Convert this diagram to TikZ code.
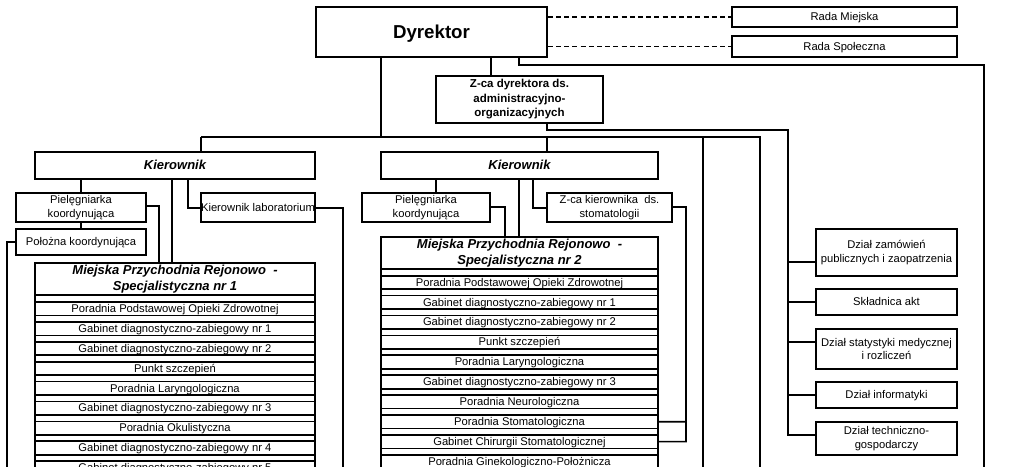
\documentclass[tikz,border=0pt]{standalone}
\usepackage{fontspec}
\setmainfont{Liberation Sans}
\begin{document}
\begin{tikzpicture}[x=1pt,y=-1pt,
  box/.style={draw,line width=1.7pt,fill=white,inner sep=0pt,align=center,font=\fontsize{11.2}{13.3}\selectfont},
  one/.style={text height=8pt,text depth=0.6pt},
  bbox/.style={box,font=\fontsize{11.5}{14.5}\selectfont\bfseries},
  kbox/.style={box,font=\fontsize{13}{16}\selectfont\bfseries\itshape},
  rowbox/.style={draw,line width=1.7pt,fill=white,inner sep=0pt,font=\fontsize{11.2}{13}\selectfont,one},
  conn/.style={line width=1.6pt},
  dconn/.style={line width=1.6pt,dash pattern=on 5pt off 3.2pt}]
\useasboundingbox (0,0) rectangle (1024,466);
\fill[white] (0,0) rectangle (1024,466);
% top level
\node[box,minimum width=231pt,minimum height=50pt,font=\fontsize{18.7}{22}\selectfont\bfseries,text height=13.4pt,text depth=0.8pt] (dyr) at (431.5,32) {Dyrektor};
\node[box,one,minimum width=225pt,minimum height=20pt] (rm) at (844.5,17) {Rada Miejska};
\node[box,one,minimum width=225pt,minimum height=21pt] (rs) at (844.5,46.5) {Rada Społeczna};
\node[bbox,minimum width=167pt,minimum height=47pt] (zca) at (519.5,99.5) {Z-ca dyrektora ds.\\administracyjno-\\organizacyjnych};
\node[kbox,minimum width=280pt,minimum height=27pt,text height=9.3pt,text depth=0.7pt] (k1) at (175,165.5) {Kierownik};
\node[kbox,minimum width=277pt,minimum height=27pt,text height=9.3pt,text depth=0.7pt] (k2) at (519.5,165.5) {Kierownik};
% left branch
\node[box,minimum width=130pt,minimum height=29pt] (p1) at (81,207.5) {Pielęgniarka\\koordynująca};
\node[box,one,minimum width=130pt,minimum height=26pt] (pol) at (81,242) {Położna koordynująca};
\node[box,one,minimum width=114pt,minimum height=29pt] (klab) at (258,207.5) {Kierownik laboratorium};
% middle branch
\node[box,minimum width=128pt,minimum height=29pt] (p2) at (426,207.5) {Pielęgniarka\\koordynująca};
\node[box,minimum width=125pt,minimum height=29pt] (zk) at (609.5,207.5) {Z-ca kierownika\ \ ds.\\stomatologii};
% MPRS 1
\draw[line width=1.7pt] (35,263) -- (35,480) (315,263) -- (315,480);
\node[kbox,minimum width=280pt,minimum height=32pt,font=\fontsize{13}{15.5}\selectfont\bfseries\itshape] (m1) at (175,279) {Miejska Przychodnia Rejonowo\ \ -\\Specjalistyczna nr 1};
\foreach \t [count=\i from 0] in {Poradnia Podstawowej Opieki Zdrowotnej,Gabinet diagnostyczno-zabiegowy nr 1,Gabinet diagnostyczno-zabiegowy nr 2,Punkt szczepień,Poradnia Laryngologiczna,Gabinet diagnostyczno-zabiegowy nr 3,Poradnia Okulistyczna,Gabinet diagnostyczno-zabiegowy nr 4,Gabinet diagnostyczno-zabiegowy nr 5}
  \node[rowbox,minimum width=280pt,minimum height=13.5pt] (ra\i) at (175,308.75+19.9*\i) {\t};
% MPRS 2
\draw[line width=1.7pt] (381,237) -- (381,480) (658,237) -- (658,480);
\node[kbox,minimum width=277pt,minimum height=32pt,font=\fontsize{13}{15.5}\selectfont\bfseries\itshape] (m2) at (519.5,253) {Miejska Przychodnia Rejonowo\ \ -\\Specjalistyczna nr 2};
\foreach \t [count=\i from 0] in {Poradnia Podstawowej Opieki Zdrowotnej,Gabinet diagnostyczno-zabiegowy nr 1,Gabinet diagnostyczno-zabiegowy nr 2,Punkt szczepień,Poradnia Laryngologiczna,Gabinet diagnostyczno-zabiegowy nr 3,Poradnia Neurologiczna,Poradnia Stomatologiczna,Gabinet Chirurgii Stomatologicznej,Poradnia Ginekologiczno-Położnicza}
  \node[rowbox,minimum width=277pt,minimum height=13.5pt] (rb\i) at (519.5,282.45+19.9*\i) {\t};
% right departments
\node[box,minimum width=141pt,minimum height=47pt] (d1) at (886.5,252.5) {Dział zamówień\\publicznych i zaopatrzenia};
\node[box,one,minimum width=141pt,minimum height=26pt] (d2) at (886.5,302) {Składnica akt};
\node[box,minimum width=141pt,minimum height=40pt] (d3) at (886.5,349) {Dział statystyki medycznej\\i rozliczeń};
\node[box,one,minimum width=141pt,minimum height=26pt] (d4) at (886.5,395) {Dział informatyki};
\node[box,minimum width=141pt,minimum height=33pt] (d5) at (886.5,438.5) {Dział techniczno-\\gospodarczy};
% coordinates
\coordinate (busL) at (201,137);
\coordinate (busR) at (760,137);
\coordinate (bot) at (0,470);
% connectors
\draw[dconn] (dyr.east |- rm.west) -- (rm.west);
\draw[dconn] (dyr.east |- rs.west) -- (rs.west);
\draw[conn] (dyr.south -| 519,0) -- (519,65) -- (984,65) -- (984,470);
\draw[conn] (dyr.south -| 491,0) -- (zca.north -| 491,0);
\draw[conn] (dyr.south -| 381,0) -- (381,137);
\draw[conn] (busL) -- (busR) -- (busR |- bot);
\draw[conn] (703,137) -- (703,470);
\draw[conn] (busL) -- (k1.north -| busL);
\draw[conn] (547,137) -- (k2.north -| 547,0);
\draw[conn] (zca.south -| 547,0) -- (547,130) -- (788,130) -- (788,435) -- (d5.west |- 0,435);
\foreach \d/\y in {d1/262,d2/302,d3/342,d4/395}
  \draw[conn] (788,\y) -- (\d.west |- 0,\y);
% left branch connectors
\draw[conn] (k1.south -| p1.north) -- (p1.north);
\draw[conn] (p1.south) -- (pol.north);
\draw[conn] (pol.west) -- (7,242) -- (7,470);
\draw[conn] (p1.east |- 0,206) -- (159,206) -- (m1.north -| 159,0);
\draw[conn] (k1.south -| 172,0) -- (m1.north -| 172,0);
\draw[conn] (k1.south -| 188,0) -- (188,208) -- (klab.west |- 0,208);
\draw[conn] (klab.east |- 0,208) -- (343,208) -- (343,470);
% middle branch connectors
\draw[conn] (k2.south -| 436,0) -- (p2.north -| 436,0);
\draw[conn] (p2.east |- 0,207) -- (505,207) -- (m2.north -| 505,0);
\draw[conn] (k2.south -| 519,0) -- (m2.north -| 519,0);
\draw[conn] (k2.south -| 533,0) -- (533,208) -- (zk.west |- 0,208);
\draw[conn] (zk.east |- 0,207) -- (686,207) -- (686,441.6) -- (rb8.east);
\draw[conn] (rb7.east) -- (686,421.7);
\end{tikzpicture}
\end{document}
